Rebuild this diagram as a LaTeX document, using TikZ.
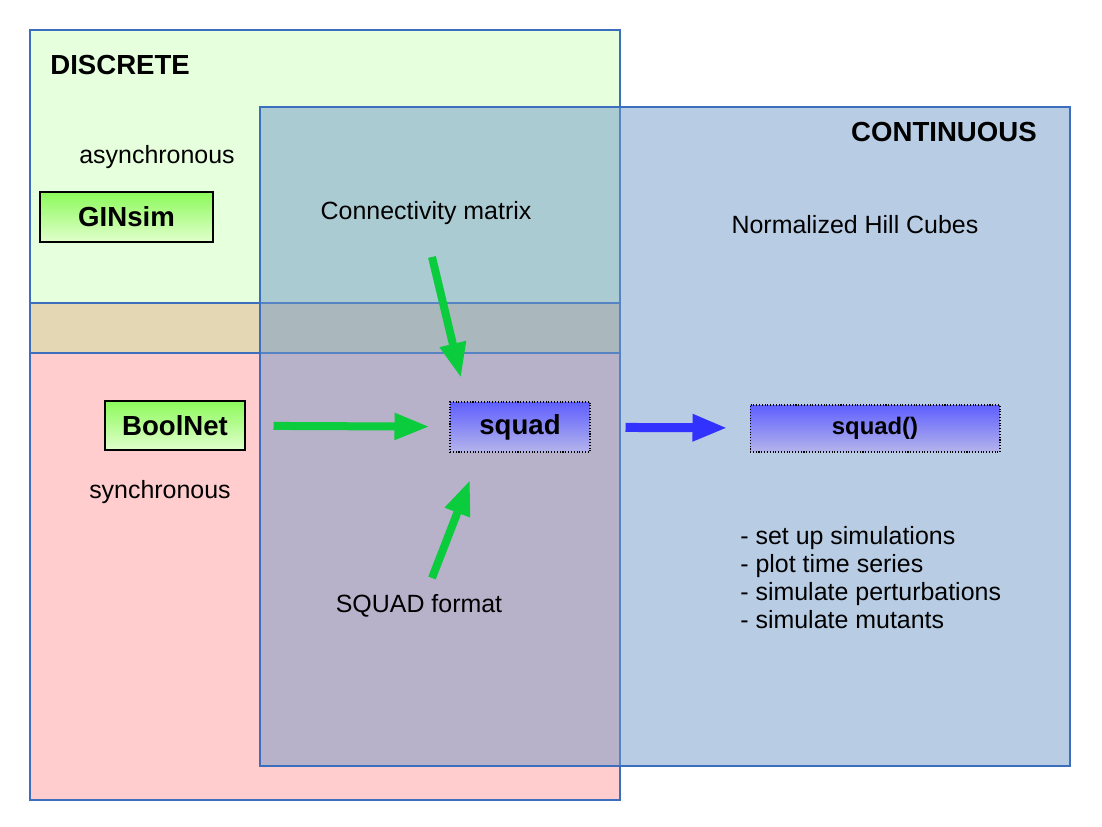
\documentclass[tikz,border=0pt]{standalone}
\usepackage{fontspec}
\setmainfont{Liberation Sans}
\usetikzlibrary{arrows.meta}

\tikzset{
  plaintext/.style={inner sep=0pt, font=\fontsize{14.2}{15.9}\selectfont},
  heading/.style={inner sep=0pt, font=\fontsize{15.7}{18}\selectfont\bfseries},
  frame/.style={draw={rgb,255:red,60;green,110;blue,190}, line width=0.6pt},
  toolbox/.style={draw=black, line width=0.6pt, minimum height=1cm,
    font=\fontsize{15.7}{18}\selectfont\bfseries,
    top color={rgb,255:red,140;green,250;blue,90}, bottom color={rgb,255:red,225;green,255;blue,205}},
  squadbox/.style={draw=black, densely dotted, line width=0.6pt, minimum height=1cm,
    top color={rgb,255:red,95;green,95;blue,255}, bottom color={rgb,255:red,180;green,180;blue,235}},
  flow/.style={line width=0.16cm, -{Triangle[length=0.7cm, width=0.5cm]}}
}

\begin{document}
\begin{tikzpicture}[x=0.02cm, y=-0.02cm]
  \definecolor{discgreen}{RGB}{230,255,220}
  \definecolor{discbeige}{RGB}{228,216,180}
  \definecolor{discpink}{RGB}{255,205,205}
  \definecolor{contblue}{RGB}{113,153,201}
  \definecolor{flowgreen}{RGB}{10,204,60}
  \definecolor{flowblue}{RGB}{50,50,255}
  \useasboundingbox (0,0) rectangle (1102,827);

  % discrete area
  \fill [discgreen] (30,30) rectangle (620,303);
  \fill [discbeige] (30,303) rectangle (620,353);
  \fill [discpink] (30,353) rectangle (620,800);
  \draw [frame] (30,30) rectangle (620,800);
  \draw [frame] (30,303) -- (620,303);
  \draw [frame] (30,353) -- (620,353);

  % continuous area
  \filldraw [frame, fill=contblue, fill opacity=0.5] (260,107) rectangle (1070,766);

  % headings and labels
  \node [heading, anchor=west] (discrete) at (50,65) {DISCRETE};
  \node [heading, anchor=east] (continuous) at (1037,132) {CONTINUOUS};
  \node [plaintext] (async) at (157,157) {asynchronous};
  \node [plaintext] (sync) at (160,492) {synchronous};
  \node [plaintext] (connmat) at (426,213) {Connectivity matrix};
  \node [plaintext] (sqformat) at (419,606) {SQUAD format};
  \node [plaintext] (hill) at (855,225) {Normalized Hill Cubes};
  \node [plaintext, anchor=north west, align=left] (tasks) at (740,526)
    {- set up simulations\\- plot time series\\- simulate perturbations\\- simulate mutants};

  % tools
  \node [toolbox, minimum width=3.46cm] (ginsim) at (126.5,217) {GINsim};
  \node [toolbox, minimum width=2.8cm, minimum height=0.98cm] (boolnet) at (175,425.5) {BoolNet};
  \node [squadbox, minimum width=2.8cm, font=\fontsize{15.7}{18}\selectfont\bfseries] (squad) at (520,427) {squad};
  \node [squadbox, minimum width=5cm, minimum height=0.94cm, font=\fontsize{13.6}{16}\selectfont\bfseries] (squadfun) at (875,428.5) {squad()};

  % arrows
  \coordinate (conntail) at (432,257);
  \coordinate (connhead) at (461,378);
  \coordinate (formtail) at (432,578);
  \coordinate (formhead) at (470,480);
  \draw [flow, flowgreen] (conntail) -- (connhead);
  \draw [flow, flowgreen] (formtail) -- (formhead);
  \draw [flow, flowgreen, shorten <=0.56cm, shorten >=0.4cm] (boolnet) -- (squad);
  \draw [flow, flowblue, line width=0.18cm, shorten <=0.7cm, shorten >=0.44cm] (squad) -- (squadfun);
\end{tikzpicture}
\end{document}
